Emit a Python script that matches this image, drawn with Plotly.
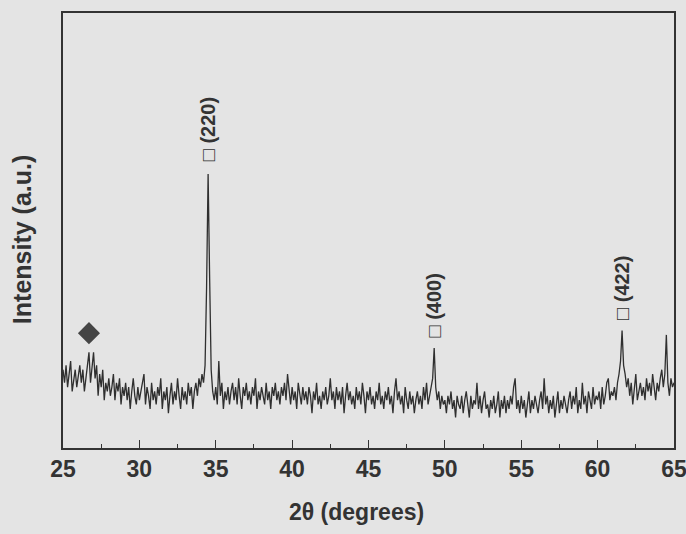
import plotly.graph_objects as go

# 2-theta grid (degrees), 0.1 step from 25.0 to 65.0
two_theta_start = 25.0
two_theta_step = 0.1

# Intensity (a.u.), one row per degree
intensity = [
    18, 15, 19, 14, 17, 20, 13, 16, 18, 14,   # 25
    17, 19, 15, 18, 13, 16, 20, 22, 15, 18,   # 26
    22, 16, 19, 12, 17, 14, 18, 11, 15, 13,   # 27
    16, 12, 14, 17, 11, 15, 13, 16, 10, 14,   # 28
    12, 15, 11, 14, 9, 13, 16, 12, 10, 14,    # 29
    11, 13, 15, 17, 10, 14, 12, 9, 15, 11,    # 30
    13, 10, 14, 12, 16, 9, 13, 11, 14, 8,     # 31
    12, 15, 10, 13, 11, 16, 12, 9, 14, 11,    # 32
    13, 10, 15, 12, 14, 9, 13, 15, 12, 16,    # 33
    14, 17, 15, 19, 37, 63, 39, 18, 13, 11,   # 34
    14, 10, 20, 12, 15, 9, 13, 11, 14, 10,    # 35
    13, 15, 11, 14, 10, 16, 12, 9, 14, 12,    # 36
    15, 11, 13, 10, 14, 12, 16, 9, 13, 11,    # 37
    14, 12, 10, 15, 11, 13, 9, 14, 12, 15,    # 38
    11, 13, 10, 14, 12, 15, 11, 17, 13, 10,   # 39
    14, 11, 13, 9, 15, 12, 10, 14, 11, 13,    # 40
    10, 14, 12, 8, 13, 11, 15, 10, 12, 9,     # 41
    13, 11, 14, 10, 12, 16, 11, 13, 9, 14,    # 42
    11, 13, 10, 14, 8, 12, 15, 11, 13, 10,    # 43
    12, 9, 14, 11, 13, 10, 15, 12, 8, 13,     # 44
    11, 14, 10, 12, 9, 13, 11, 15, 10, 12,    # 45
    9, 13, 11, 14, 10, 12, 8, 13, 16, 11,     # 46
    13, 10, 12, 8, 14, 11, 9, 13, 10, 12,     # 47
    8, 11, 13, 10, 12, 9, 14, 11, 15, 10,     # 48
    12, 14, 16, 23, 14, 11, 13, 9, 12, 10,    # 49
    11, 8, 12, 10, 13, 9, 11, 7, 12, 10,      # 50
    9, 12, 8, 11, 13, 10, 7, 12, 9, 11,       # 51
    10, 15, 9, 12, 8, 11, 13, 9, 10, 7,       # 52
    11, 9, 12, 8, 10, 13, 7, 11, 9, 12,       # 53
    8, 11, 9, 12, 10, 14, 16, 9, 11, 8,       # 54
    12, 9, 11, 7, 10, 13, 8, 11, 9, 12,       # 55
    10, 8, 11, 13, 9, 16, 10, 12, 8, 11,      # 56
    9, 12, 7, 10, 13, 8, 11, 9, 12, 10,       # 57
    8, 11, 13, 9, 12, 10, 14, 8, 11, 9,       # 58
    15, 10, 12, 8, 13, 11, 9, 14, 10, 12,     # 59
    11, 13, 9, 14, 10, 12, 15, 16, 11, 13,    # 60
    12, 14, 11, 15, 17, 20, 27, 19, 17, 14,   # 61
    16, 12, 15, 10, 14, 17, 11, 13, 15, 12,   # 62
    14, 11, 16, 13, 15, 12, 17, 14, 11, 15,   # 63
    13, 16, 18, 14, 17, 26, 15, 12, 16, 14,   # 64
    15,                                       # 65
]
two_theta = [round(two_theta_start + i * two_theta_step, 1) for i in range(len(intensity))]

# Peak labels (Miller indices)
peak_labels = ["(220)", "(400)", "(422)"]
peak_pos = [34.5, 49.3, 61.6]
peak_label_y = [65.5, 25.0, 29.0]

# Diamond marker (secondary phase)
diamond_x = [26.7]
diamond_y = [26.4]

x_title = "2\u03b8 (degrees)"
y_title = "Intensity (a.u.)"

ink = "#333333"
bg = "#e4e4e4"
font_family = "Arial, Liberation Sans, sans-serif"

fig = go.Figure()
fig.add_trace(go.Scatter(
    x=two_theta, y=intensity, mode="lines",
    line=dict(color="#2f2f2f", width=1.3),
    showlegend=False, hoverinfo="skip",
))
fig.add_trace(go.Scatter(
    x=diamond_x, y=diamond_y, mode="markers",
    marker=dict(symbol="diamond", size=17, color="#454545"),
    showlegend=False, hoverinfo="skip",
))

for lab, px, py in zip(peak_labels, peak_pos, peak_label_y):
    fig.add_annotation(
        x=px, y=py, text="<b>\u25a1 " + lab + "</b>", showarrow=False,
        textangle=-90, xanchor="center", yanchor="bottom",
        font=dict(family=font_family, size=20, color=ink),
    )

# axis titles placed as paper-anchored annotations
fig.add_annotation(
    x=0.48, y=-0.147, xref="paper", yref="paper", text="<b>" + x_title + "</b>",
    showarrow=False, xanchor="center", yanchor="middle",
    font=dict(family=font_family, size=23, color=ink),
)
fig.add_annotation(
    x=-0.067, y=0.478, xref="paper", yref="paper", text="<b>" + y_title + "</b>",
    showarrow=False, xanchor="center", yanchor="middle", textangle=-90,
    font=dict(family=font_family, size=25, color=ink),
)

fig.update_layout(
    width=686, height=534,
    margin=dict(l=63, r=12, t=13, b=86),
    paper_bgcolor=bg, plot_bgcolor=bg,
    font=dict(family=font_family, color=ink),
    showlegend=False,
)
fig.update_xaxes(
    range=[25, 65], tickmode="linear", tick0=25, dtick=5,
    ticks="inside", ticklen=8, tickwidth=1.3, tickcolor=ink,
    minor=dict(dtick=2.5, ticks="inside", ticklen=4, tickwidth=1.3, tickcolor=ink),
    showline=True, linecolor=ink, linewidth=1.6, mirror=True,
    showgrid=False, zeroline=False, automargin=False,
    ticklabeloverflow="allow",
    tickprefix="<b>", ticksuffix="</b>",
    tickfont=dict(family=font_family, size=23, color=ink),
)
fig.update_yaxes(
    range=[0, 100], showticklabels=False, ticks="",
    showline=True, linecolor=ink, linewidth=1.6, mirror=True,
    showgrid=False, zeroline=False, automargin=False,
)

fig.write_html(
    "out.html",
    config={"displayModeBar": False},
    post_script="document.body.style.margin='0';document.body.style.background='%s';" % bg,
)
